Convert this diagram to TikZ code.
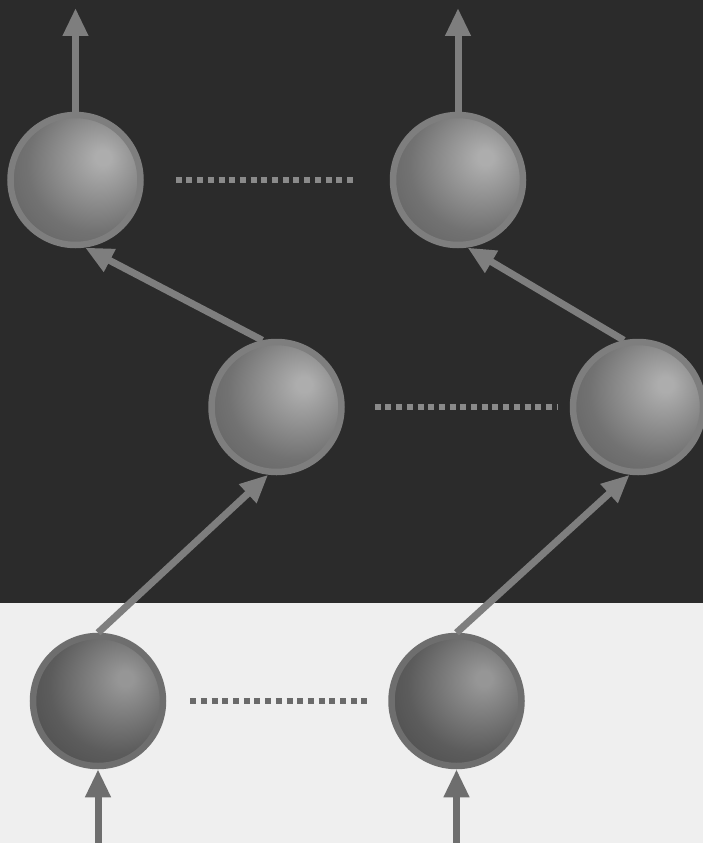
\documentclass[tikz,border=0pt]{standalone}
\usetikzlibrary{arrows.meta}
\definecolor{bgdark}{HTML}{2B2B2B}
\definecolor{bglight}{HTML}{EFEFEF}
\definecolor{ringc}{HTML}{7E7E7E}
\definecolor{ringl}{HTML}{6E6E6E}
\definecolor{dotc}{HTML}{8A8A8A}
\definecolor{dotl}{HTML}{6A6A6A}
\definecolor{hlA}{HTML}{ADADAD}
\definecolor{midA}{HTML}{727272}
\definecolor{edgeA}{HTML}{4A4A4A}
\definecolor{hlB}{HTML}{969696}
\definecolor{midB}{HTML}{5C5C5C}
\definecolor{edgeB}{HTML}{353535}
\pgfdeclareradialshading{sphA}{\pgfpoint{11bp}{9bp}}{color(0bp)=(hlA); color(3bp)=(hlA); color(26bp)=(midA); color(58bp)=(edgeA); color(80bp)=(edgeA)}
\pgfdeclareradialshading{sphB}{\pgfpoint{11bp}{9bp}}{color(0bp)=(hlB); color(3bp)=(hlB); color(26bp)=(midB); color(58bp)=(edgeB); color(80bp)=(edgeB)}
\tikzset{
  ball/.style={circle, minimum size=130pt, inner sep=0pt, shading=sphA, draw=ringc, line width=6.5pt},
  ballb/.style={ball, shading=sphB, draw=ringl},
  conn/.style={draw=ringc, line width=7pt, -{Triangle[length=28pt,width=24pt]}},
  connb/.style={conn, draw=ringl, fill=ringl},
  dots/.style={draw=dotc, line width=6pt, dash pattern=on 6pt off 4.7pt},
  dotsb/.style={dots, draw=dotl}
}
\begin{document}
\begin{tikzpicture}[x=1pt,y=-1pt]
\useasboundingbox (0,0) rectangle (703,843);
\fill[bglight] (0,0) rectangle (703,843);
\fill[bgdark] (0,0) rectangle (703,603);
% spheres
\node[ball] (tl) at (75.5,180) {};
\node[ball] (tr) at (458,180) {};
\node[ball] (ml) at (276.5,407) {};
\node[ball] (mr) at (638,407) {};
\node[ballb] (bl) at (98,701) {};
\node[ballb] (br) at (456.5,701) {};
% free ends
\coordinate (otl) at (75.5,8);
\coordinate (otr) at (458,8);
\coordinate (ibl) at (98,843);
\coordinate (ibr) at (456.5,843);
% arrows
\draw[conn] (tl.north) -- (otl);
\draw[conn] (tr.north) -- (otr);
\draw[connb] (ibl) -- (bl.south);
\draw[connb] (ibr) -- (br.south);
\draw[conn] (bl.north) -- (ml.263);
\draw[conn] (br.north) -- (mr.263);
\draw[conn] (ml.102) -- (tl.278);
\draw[conn] (mr.102) -- (tr.278);
% dotted links
\draw[dots] ([xshift=32pt]tl.east) -- ([xshift=-33pt]tr.west);
\draw[dots] ([xshift=30pt]ml.east) -- ([xshift=-13pt]mr.west);
\draw[dotsb] ([xshift=24pt]bl.east) -- ([xshift=-18pt]br.west);
\end{tikzpicture}
\end{document}
